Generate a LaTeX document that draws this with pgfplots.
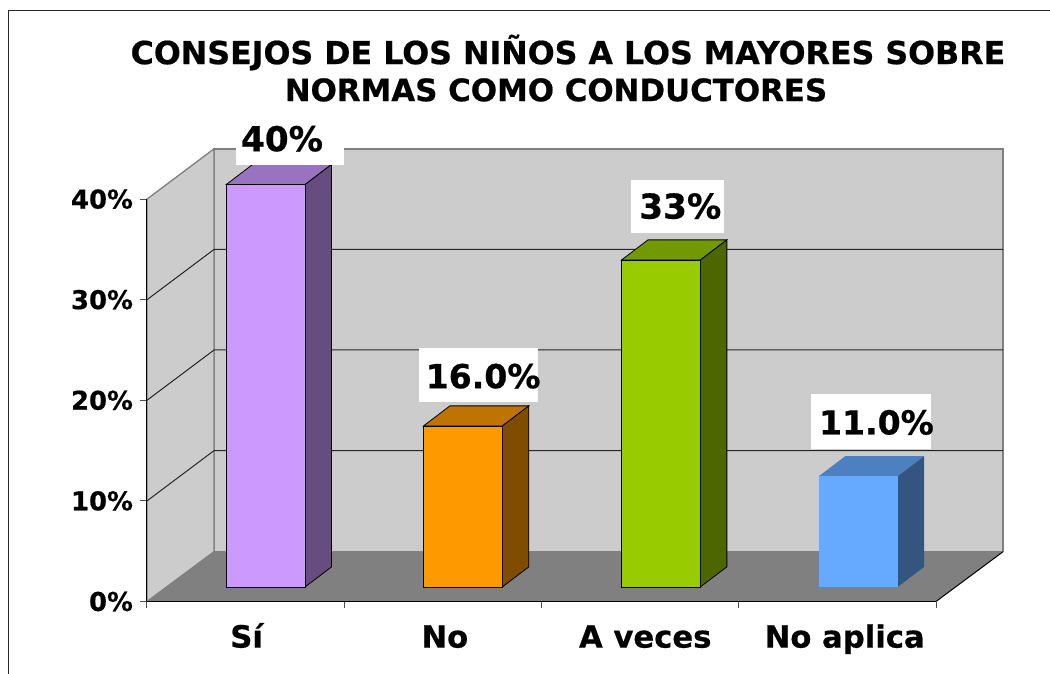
\documentclass[border=0pt]{standalone}
\usepackage{fontspec}
\setmainfont{DejaVu Sans}[BoldFeatures={FakeBold=0.6}]
\usepackage{pgfplots}
\pgfplotsset{compat=1.18}
\definecolor{wall}{HTML}{CCCCCC}
\definecolor{suelo}{HTML}{808080}
\definecolor{lila}{HTML}{CC99FF}
\definecolor{lilatop}{HTML}{9973BF}
\definecolor{lilaside}{HTML}{664C7F}
\definecolor{naranja}{HTML}{FF9900}
\definecolor{naranjatop}{HTML}{BF7300}
\definecolor{naranjaside}{HTML}{804D00}
\definecolor{verde}{HTML}{99CC00}
\definecolor{verdetop}{HTML}{739900}
\definecolor{verdeside}{HTML}{4D6600}
\definecolor{azul}{HTML}{66AAFF}
\definecolor{azultop}{HTML}{4D80BF}
\definecolor{azulside}{HTML}{335580}
\begin{document}
\begin{tikzpicture}
  % 1px = 0.75pt; origin is the front corner of the axis at (147,601.5)
  \path[use as bounding box] (-110.25pt,-54.375pt) rectangle (677.25pt,451.125pt);
  \draw[black!85,line width=0.75pt] (-103.9pt,-54.375pt) -- (-103.9pt,443.3pt) -- (677.25pt,443.3pt);
  \begin{axis}[
    scale only axis,
    width=591.75pt, height=301.8pt,
    xmin=0, xmax=4, ymin=0, ymax=40,
    clip=false,
    axis on top,
    axis x line*=bottom, axis y line*=left,
    axis line style={line width=0.75pt},
    tick align=outside,
    major tick length=5.25pt,
    minor tick length=5.25pt,
    tick style={line width=0.75pt, black!70},
    xtick={0.505,1.51,2.526,3.537},
    xticklabels={S\'{\i},No,A veces,No aplica},
    minor xtick={0,1,2,3,4},
    major x tick style={draw=none},
    ytick={0,10,20,30,40},
    yticklabels={0\%,10\%,20\%,30\%,40\%},
    xticklabel style={font=\fontsize{23}{27}\selectfont\bfseries, yshift=-9pt, text height=16.8pt},
    yticklabel style={font=\fontsize{19.4}{23}\selectfont\bfseries, xshift=-1.75pt},
    title={CONSEJOS DE LOS NIÑOS A LOS MAYORES SOBRE\\\fontsize{23.15}{27.8}\selectfont NORMAS COMO CONDUCTORES\hspace*{18pt}},
    title style={font=\fontsize{23.75}{27.8}\selectfont\bfseries, align=center,
                 at={(0.5336,1)}, anchor=south, yshift=63.6pt},
    bar3d/.style={xshift=15pt, yshift=10.9pt},
  ]
    % paredes y suelo
    \addplot[fill=wall, draw=suelo, line width=1.1pt] coordinates {(0.34,4.95) (0.34,45) (4.34,45) (4.34,4.95)} --cycle;
    \addplot[fill=wall, draw=suelo, line width=1pt] coordinates {(0,0) (0,40) (0.34,45) (0.34,4.95)} --cycle;
    \addplot[fill=suelo, draw=none] coordinates {(0,0) (0.34,4.95) (4.34,4.95) (4,0)} --cycle;
    \addplot[black, line width=0.75pt] coordinates {(4,0) (4.34,4.95)};
    % rejilla
    \addplot[black!85, line width=0.75pt] coordinates {(0,10) (0.34,15) (4.34,15)};
    \addplot[black!85, line width=0.75pt] coordinates {(0,20) (0.34,25) (4.34,25)};
    \addplot[black!85, line width=0.75pt] coordinates {(0,30) (0.34,35) (4.34,35)};

    % Si, 40
    \addplot[bar3d, fill=lilatop, draw=black, line width=0.6pt] coordinates {(0.3,40) (0.4343,42) (0.8343,42) (0.7,40)} --cycle;
    \addplot[bar3d, fill=lilaside, draw=black, line width=0.6pt] coordinates {(0.7,0) (0.8343,2) (0.8343,42) (0.7,40)} --cycle;
    \addplot[bar3d, ybar, bar width=59.25pt, fill=lila, draw=black, line width=0.6pt] coordinates {(0.5,40)};
    % No, 16
    \addplot[bar3d, fill=naranjatop, draw=black, line width=0.6pt] coordinates {(1.3,16) (1.4343,18) (1.8343,18) (1.7,16)} --cycle;
    \addplot[bar3d, fill=naranjaside, draw=black, line width=0.6pt] coordinates {(1.7,0) (1.8343,2) (1.8343,18) (1.7,16)} --cycle;
    \addplot[bar3d, ybar, bar width=59.25pt, fill=naranja, draw=black, line width=0.6pt] coordinates {(1.5,16)};
    % A veces, 32.5
    \addplot[bar3d, fill=verdetop, draw=black, line width=0.6pt] coordinates {(2.304,32.5) (2.4383,34.5) (2.8383,34.5) (2.704,32.5)} --cycle;
    \addplot[bar3d, fill=verdeside, draw=black, line width=0.6pt] coordinates {(2.704,0) (2.8383,2) (2.8383,34.5) (2.704,32.5)} --cycle;
    \addplot[bar3d, ybar, bar width=59.25pt, fill=verde, draw=black, line width=0.6pt] coordinates {(2.504,32.5)};
    % No aplica, 11
    \addplot[bar3d, fill=azultop, draw=none] coordinates {(3.304,11) (3.4383,13) (3.8383,13) (3.704,11)} --cycle;
    \addplot[bar3d, fill=azulside, draw=none] coordinates {(3.704,0) (3.8383,2) (3.8383,13) (3.704,11)} --cycle;
    \addplot[bar3d, ybar, bar width=59.25pt, fill=azul, draw=none] coordinates {(3.504,11)};

    % etiquetas
    \fill[white] (axis cs:0.4513,48.66) rectangle (axis cs:0.9963,43.4);
    \fill[white] (axis cs:2.4539,36.6) rectangle (axis cs:2.9256,41.9);
    \fill[white] (axis cs:1.3798,19.8) rectangle (axis cs:1.9840,25.2);
    \fill[white] (axis cs:3.3665,15.2) rectangle (axis cs:3.9752,20.6);
    \node[font=\fontsize{25.7}{30}\selectfont\bfseries, inner sep=0pt] at (axis cs:0.6844,46) {40\%};
    \node[font=\fontsize{25.7}{30}\selectfont\bfseries, inner sep=0pt] at (axis cs:2.7036,39.3) {33\%};
    \node[font=\fontsize{24.8}{30}\selectfont\bfseries, inner sep=0pt] at (axis cs:1.7040,22.4) {16.0\%};
    \node[font=\fontsize{24.8}{30}\selectfont\bfseries, inner sep=0pt] at (axis cs:3.6980,17.8) {11.0\%};
  \end{axis}
\end{tikzpicture}
\end{document}
